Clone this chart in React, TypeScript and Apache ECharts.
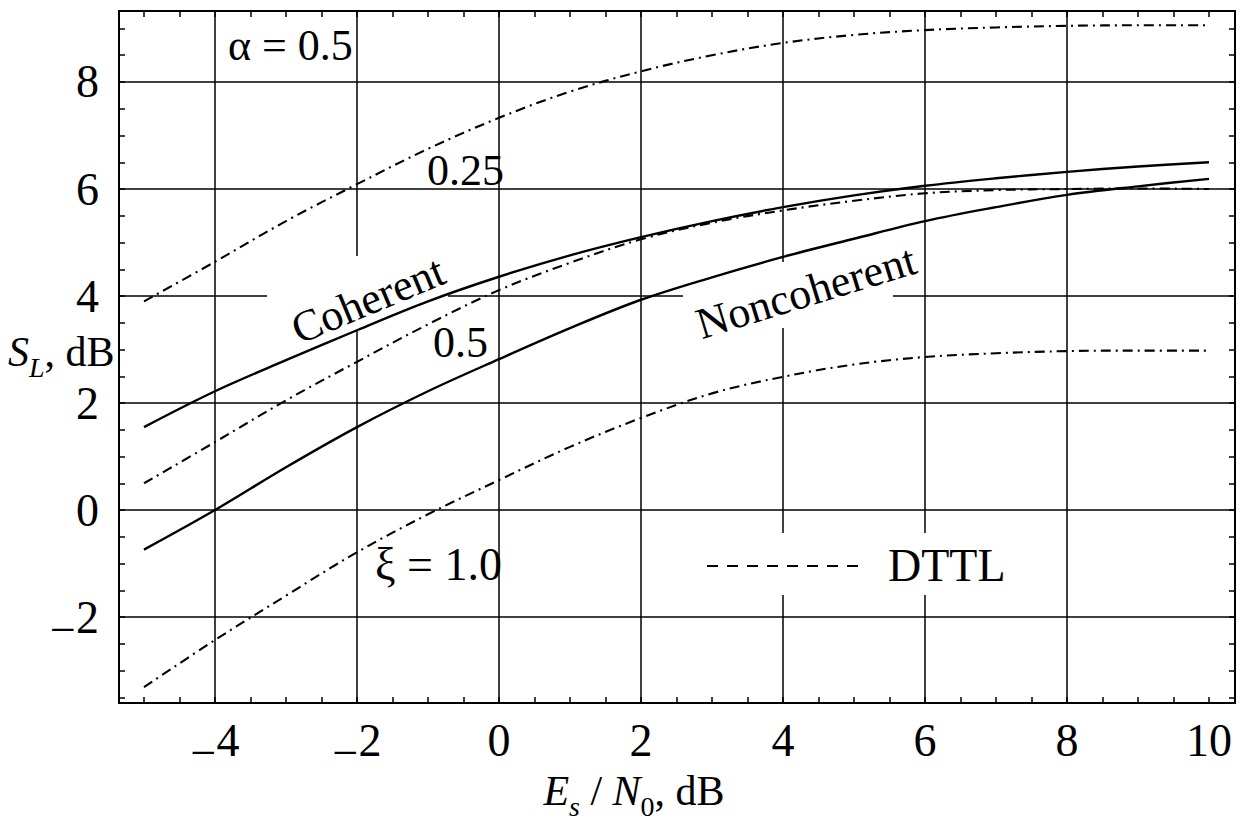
import React, { useEffect, useRef } from 'react';
import * as echarts from 'echarts';

// ---- data ----
const esN0 = [-5, -4, -3, -2, -1, 0, 1, 2, 3, 4, 5, 6, 7, 8, 9, 10];
const coherent = [1.55, 2.22, 2.8, 3.36, 3.9, 4.36, 4.76, 5.1, 5.4, 5.66, 5.88, 6.06, 6.2, 6.32, 6.42, 6.5];
const coherentDTTL025 = [0.5, 1.27, 2.05, 2.77, 3.47, 4.11, 4.62, 5.06, 5.37, 5.6, 5.78, 5.92, 5.98, 6.0, 6.01, 6.0];
const noncoherent = [-0.74, 0.0, 0.8, 1.55, 2.22, 2.82, 3.4, 3.93, 4.35, 4.73, 5.07, 5.4, 5.66, 5.89, 6.05, 6.19];
const dttlAlpha05 = [3.9, 4.64, 5.4, 6.09, 6.75, 7.33, 7.82, 8.2, 8.5, 8.73, 8.88, 8.97, 9.02, 9.05, 9.06, 9.06];
const dttlXi10 = [-3.31, -2.43, -1.6, -0.79, -0.08, 0.56, 1.18, 1.72, 2.18, 2.49, 2.72, 2.86, 2.93, 2.97, 2.98, 2.98];

const xTickLabels = [-4, -2, 0, 2, 4, 6, 8, 10];
const yTickLabels = [-2, 0, 2, 4, 6, 8];
const xGridValues = [-4, -2, 0, 2, 4, 6, 8];
const yGridValues = [-2, 0, 2, 4, 6, 8];
const xMinorTicks = [-5, -4.5, -4, -3.5, -3, -2.5, -2, -1.5, -1, -0.5, 0, 0.5, 1, 1.5, 2, 2.5, 3, 3.5, 4, 4.5, 5, 5.5, 6, 6.5, 7, 7.5, 8, 8.5, 9, 9.5, 10];
const yMinorTicks = [-3.5, -3, -2.5, -2, -1.5, -1, -0.5, 0, 0.5, 1, 1.5, 2, 2.5, 3, 3.5, 4, 4.5, 5, 5.5, 6, 6.5, 7, 7.5, 8, 8.5, 9];

const X_MIN = -5.352;
const X_MAX = 10.366;
const Y_MIN = -3.607;
const Y_MAX = 9.327;

const FONT = '"Liberation Serif", "Times New Roman", serif';

export default function App() {
  const ref = useRef<HTMLDivElement>(null);

  useEffect(() => {
    const chart = echarts.init(ref.current!, null, { renderer: 'svg' });
    const pair = (ys: number[]) => esN0.map((x, i) => [x, ys[i]]);
    const fmt = (v: any) => {
      const n = Number(v);
      return n < 0 ? `{m|\u2212}{n|${-n}}` : `{n|${n}}`;
    };
    const tickRich = {
      n: { fontFamily: FONT, fontSize: 46, color: '#000', lineHeight: 46 },
      m: { fontFamily: FONT, fontSize: 46, color: '#000', lineHeight: 22, padding: [24, 0, 0, 0] },
    };
    const axisLine = { show: true, onZero: false, lineStyle: { color: '#000', width: 2 } };
    const tickStyle = { color: '#000', width: 1.5 };

    const solid = { color: '#000', width: 2.4, type: 'solid' };
    const dashDot = { color: '#000', width: 2.1, type: [10, 5, 2, 5] };

    const curve = (name: string, ys: number[], ls: any) => ({
      type: 'line',
      name,
      data: pair(ys),
      showSymbol: false,
      symbol: 'none',
      smooth: 0.35,
      z: 10,
      silent: true,
      lineStyle: ls,
      emphasis: { disabled: true },
    });

    const label = (text: string, x: number, y: number, size: number, rot = 0, align = 'left') => ({
      type: 'text',
      x,
      y,
      rotation: rot,
      z: 20,
      style: {
        text,
        fill: '#000',
        font: `${size}px ${FONT}`,
        fontFamily: FONT,
        fontSize: size,
        align,
        verticalAlign: 'middle',
      },
    });

    const whiteBox = (x: number, y: number, w: number, h: number) => ({
      type: 'rect',
      shape: { x, y, width: w, height: h },
      style: { fill: '#fff' },
      z: 5,
      silent: true,
    });

    const nameRich = {
      i: { fontFamily: FONT, fontSize: 42, fontStyle: 'italic', fill: '#000', lineHeight: 42 },
      sub: { fontFamily: FONT, fontSize: 28, fontStyle: 'italic', fill: '#000', lineHeight: 12, padding: [30, 0, 0, 0] },
      sub2: { fontFamily: FONT, fontSize: 28, fill: '#000', lineHeight: 12, padding: [30, 0, 0, 0] },
      n: { fontFamily: FONT, fontSize: 42, fill: '#000', lineHeight: 42 },
    };

    const option: any = {
      animation: false,
      backgroundColor: '#fff',
      grid: { left: 119, top: 11, width: 1116, height: 692, containLabel: false },
      xAxis: [
        {
          type: 'value', position: 'bottom', min: X_MIN, max: X_MAX,
          axisLine,
          axisTick: { show: true, inside: true, length: 6, customValues: xMinorTicks, lineStyle: tickStyle },
          axisLabel: { customValues: xTickLabels, formatter: fmt, rich: tickRich, margin: 14, color: '#000' },
          splitLine: { show: false },
        },
        {
          type: 'value', position: 'top', min: X_MIN, max: X_MAX,
          axisLine,
          axisTick: { show: true, inside: true, length: 6, customValues: xMinorTicks, lineStyle: tickStyle },
          axisLabel: { show: false },
          splitLine: { show: false },
        },
      ],
      yAxis: [
        {
          type: 'value', position: 'left', min: Y_MIN, max: Y_MAX,
          axisLine,
          axisTick: { show: true, inside: true, length: 6, customValues: yMinorTicks, lineStyle: tickStyle },
          axisLabel: { customValues: yTickLabels, formatter: fmt, rich: tickRich, margin: 20, color: '#000' },
          splitLine: { show: false },
        },
        {
          type: 'value', position: 'right', min: Y_MIN, max: Y_MAX,
          axisLine,
          axisTick: { show: true, inside: true, length: 6, customValues: yMinorTicks, lineStyle: tickStyle },
          axisLabel: { show: false },
          splitLine: { show: false },
        },
      ],
      series: [
        {
          type: 'line',
          name: 'grid',
          data: [],
          silent: true,
          z: 1,
          markLine: {
            silent: true,
            z: 1,
            symbol: ['none', 'none'],
            label: { show: false },
            emphasis: { disabled: true },
            lineStyle: { color: '#000', width: 1.5, type: 'solid' },
            data: [
              ...xGridValues.map((v) => ({ xAxis: v })),
              ...yGridValues.map((v) => ({ yAxis: v })),
            ],
          },
        },
        curve('Coherent', coherent, solid),
        curve('Noncoherent', noncoherent, solid),
        curve('DTTL α=0.5', dttlAlpha05, dashDot),
        curve('DTTL α=0.25', coherentDTTL025, dashDot),
        curve('DTTL ξ=1.0', dttlXi10, dashDot),
      ],
      graphic: [
        whiteBox(267, 256, 181, 74),
        whiteBox(683, 262, 210, 66),
        whiteBox(698, 533, 314, 62),
        label('α = 0.5', 228, 45, 44),
        label('0.25', 427, 170, 44),
        label('Coherent', 368, 300, 44, 0.396, 'center'),
        label('0.5', 433, 342, 44),
        label('Noncoherent', 806, 292, 44, 0.297, 'center'),
        label('ξ = 1.0', 375, 564, 46),
        label('DTTL', 888, 565, 46),
        {
          type: 'line',
          z: 20,
          shape: { x1: 707, y1: 566, x2: 866, y2: 566 },
          style: { stroke: '#000', lineWidth: 2, lineDash: [11, 9] },
        },
        {
          type: 'text',
          x: 8,
          y: 352,
          z: 20,
          style: {
            text: '{i|S}{sub|L}{n|, dB}',
            verticalAlign: 'middle',
            align: 'left',
            rich: nameRich,
          },
        },
        {
          type: 'text',
          x: 634,
          y: 791,
          z: 20,
          style: {
            text: '{i|E}{sub|s}{n| / }{i|N}{sub2|0}{n|, dB}',
            verticalAlign: 'middle',
            align: 'center',
            rich: nameRich,
          },
        },
      ],
    };

    chart.setOption(option);
    return () => chart.dispose();
  }, []);

  return (
    <div
      ref={ref}
      style={{ position: 'absolute', left: 0, top: 0, width: 1244, height: 820, background: '#fff' }}
    />
  );
}
